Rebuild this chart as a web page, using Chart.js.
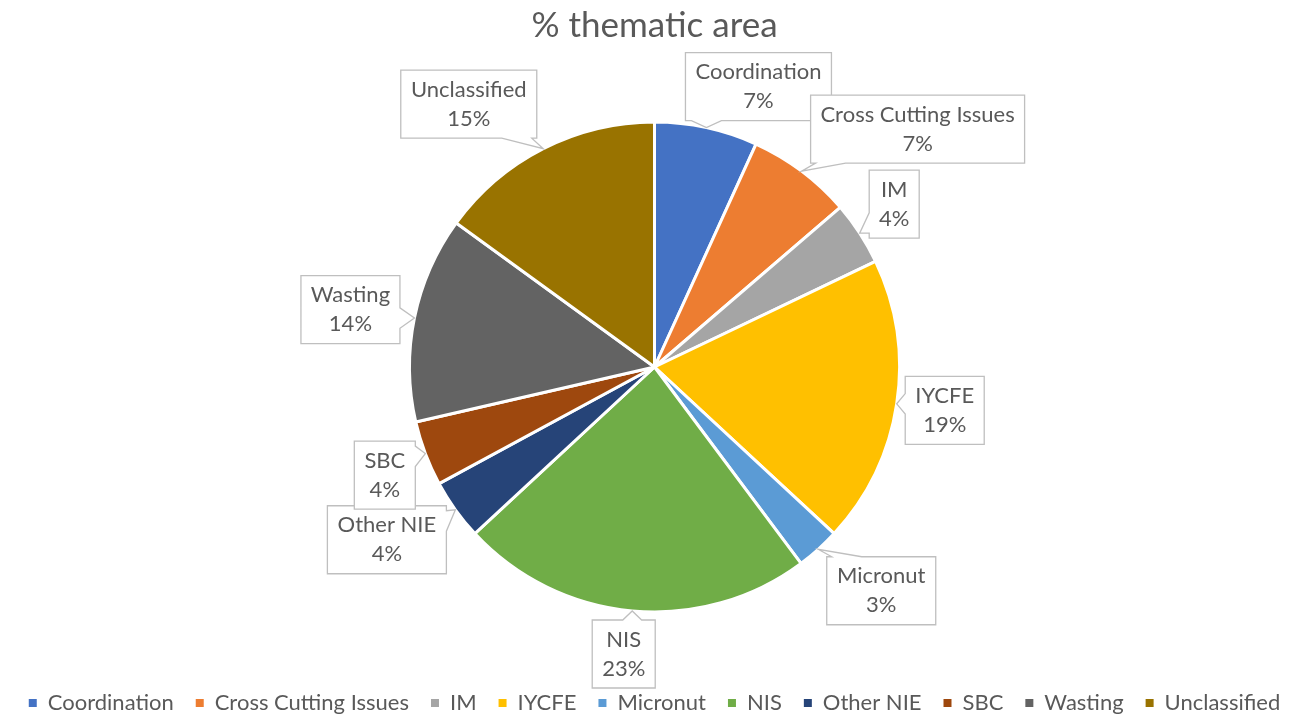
<!DOCTYPE html>
<html><head><meta charset="utf-8">
<script src="https://cdn.jsdelivr.net/npm/chart.js@4.4.1/dist/chart.umd.min.js"></script>
<style>html,body{margin:0;padding:0;background:#fff;overflow:hidden}</style>
</head><body>
<canvas id="c" width="1309" height="714"></canvas>
<script>
// ---- data ----
const categories = ['Coordination', 'Cross Cutting Issues', 'IM', 'IYCFE', 'Micronut', 'NIS', 'Other NIE', 'SBC', 'Wasting', 'Unclassified'];
const shares = [6.8, 6.9, 4.2, 19.0, 2.9, 23.3, 4.0, 4.3, 13.6, 15.0];
const chartTitle = '% thematic area';

// ---- style ----
const sliceColors = ['#4472C4', '#ED7D31', '#A5A5A5', '#FFC000', '#5B9BD5', '#70AD47', '#264478', '#9E480E', '#636363', '#997300'];
// callout box centre offset from the slice's outer mid-point (px)
const calloutOffsets = [[52,-41],[116,-42],[34.5,-29],[48,6.5],[63,41.5],[-8.5,43],[-68.5,30],[-40.5,21.5],[-64,-8.5],[-74.5,-44.5]];
const FONT = 'Lato';
const TEXT = '#595959';

const calloutPlugin = {
  id: 'callouts',
  afterDatasetsDraw(chart) {
    const ctx = chart.ctx;
    const meta = chart.getDatasetMeta(0);
    const total = shares.reduce((a, b) => a + b, 0);
    ctx.save();
    ctx.font = '22px ' + FONT;
    const lineH = 29, padX = 10, padY = 5;
    meta.data.forEach((arc, i) => {
      const p = arc.getProps(['x', 'y', 'startAngle', 'endAngle', 'outerRadius'], true);
      const mid = (p.startAngle + p.endAngle) / 2;
      const ax = p.x + Math.cos(mid) * p.outerRadius;
      const ay = p.y + Math.sin(mid) * p.outerRadius;
      const lines = [categories[i], Math.round(shares[i] / total * 100) + '%'];
      const tw = Math.max(...lines.map(t => ctx.measureText(t).width));
      const w = Math.round(tw + 2 * padX), h = 2 * lineH + 2 * padY;
      const cx = ax + calloutOffsets[i][0], cy = ay + calloutOffsets[i][1];
      const L = cx - w / 2, R = cx + w / 2, T = cy - h / 2, B = cy + h / 2;
      const ddx = ax < L ? ax - L : (ax > R ? ax - R : 0);
      const ddy = ay < T ? ay - T : (ay > B ? ay - B : 0);
      let edge = null;
      if (ddx !== 0 || ddy !== 0) {
        if (Math.abs(ddy) / h >= Math.abs(ddx) / w) edge = ddy < 0 ? 'top' : 'bottom';
        else edge = ddx < 0 ? 'left' : 'right';
      }
      const clamp = (v, a, b) => Math.max(a, Math.min(b, v));
      const pts = [];
      const wedge = (horiz, fixed, lo, hi, proj, forward) => {
        const len = hi - lo;
        const bw = Math.min(30, len * 0.3);
        const c = clamp(proj, lo + bw / 2 + 5, hi - bw / 2 - 5);
        const a = forward ? c - bw / 2 : c + bw / 2;
        const b = forward ? c + bw / 2 : c - bw / 2;
        if (horiz) { pts.push([a, fixed], [ax, ay], [b, fixed]); }
        else { pts.push([fixed, a], [ax, ay], [fixed, b]); }
      };
      pts.push([L, T]);
      if (edge === 'top') wedge(true, T, L, R, ax, true);
      pts.push([R, T]);
      if (edge === 'right') wedge(false, R, T, B, ay, true);
      pts.push([R, B]);
      if (edge === 'bottom') wedge(true, B, L, R, ax, false);
      pts.push([L, B]);
      if (edge === 'left') wedge(false, L, T, B, ay, false);
      ctx.beginPath();
      pts.forEach((q, k) => k ? ctx.lineTo(q[0], q[1]) : ctx.moveTo(q[0], q[1]));
      ctx.closePath();
      ctx.fillStyle = '#FFFFFF';
      ctx.fill();
      ctx.strokeStyle = '#BFBFBF';
      ctx.lineWidth = 1.3;
      ctx.lineJoin = 'miter';
      ctx.stroke();
      ctx.fillStyle = TEXT;
      ctx.textAlign = 'center';
      ctx.textBaseline = 'middle';
      ctx.fillText(lines[0], cx, cy - lineH / 2);
      ctx.fillText(lines[1], cx, cy + lineH / 2);
    });
    ctx.restore();
  }
};

Chart.defaults.font.family = FONT;
new Chart(document.getElementById('c'), {
  type: 'pie',
  data: {
    labels: categories,
    datasets: [{
      data: shares,
      backgroundColor: sliceColors,
      borderColor: '#FFFFFF',
      borderWidth: 3,
      radius: 245
    }]
  },
  options: {
    responsive: false,
    animation: false,
    events: [],
    layout: { padding: { top: 0, left: 0, right: 0, bottom: -10 } },
    plugins: {
      tooltip: { enabled: false },
      title: {
        display: true,
        text: chartTitle,
        color: TEXT,
        font: { family: FONT, size: 35, weight: 'normal', lineHeight: 1.2 },
        padding: { top: 5, bottom: 17 }
      },
      legend: {
        position: 'bottom',
        labels: {
          boxWidth: 8,
          boxHeight: 8,
          padding: 22,
          color: TEXT,
          font: { family: FONT, size: 22 },
          generateLabels(chart) {
            const items = Chart.overrides.pie.plugins.legend.labels.generateLabels(chart);
            items.forEach(it => { it.lineWidth = 0; it.strokeStyle = 'rgba(0,0,0,0)'; });
            return items;
          }
        }
      }
    }
  },
  plugins: [calloutPlugin]
});
</script>
</body></html>
